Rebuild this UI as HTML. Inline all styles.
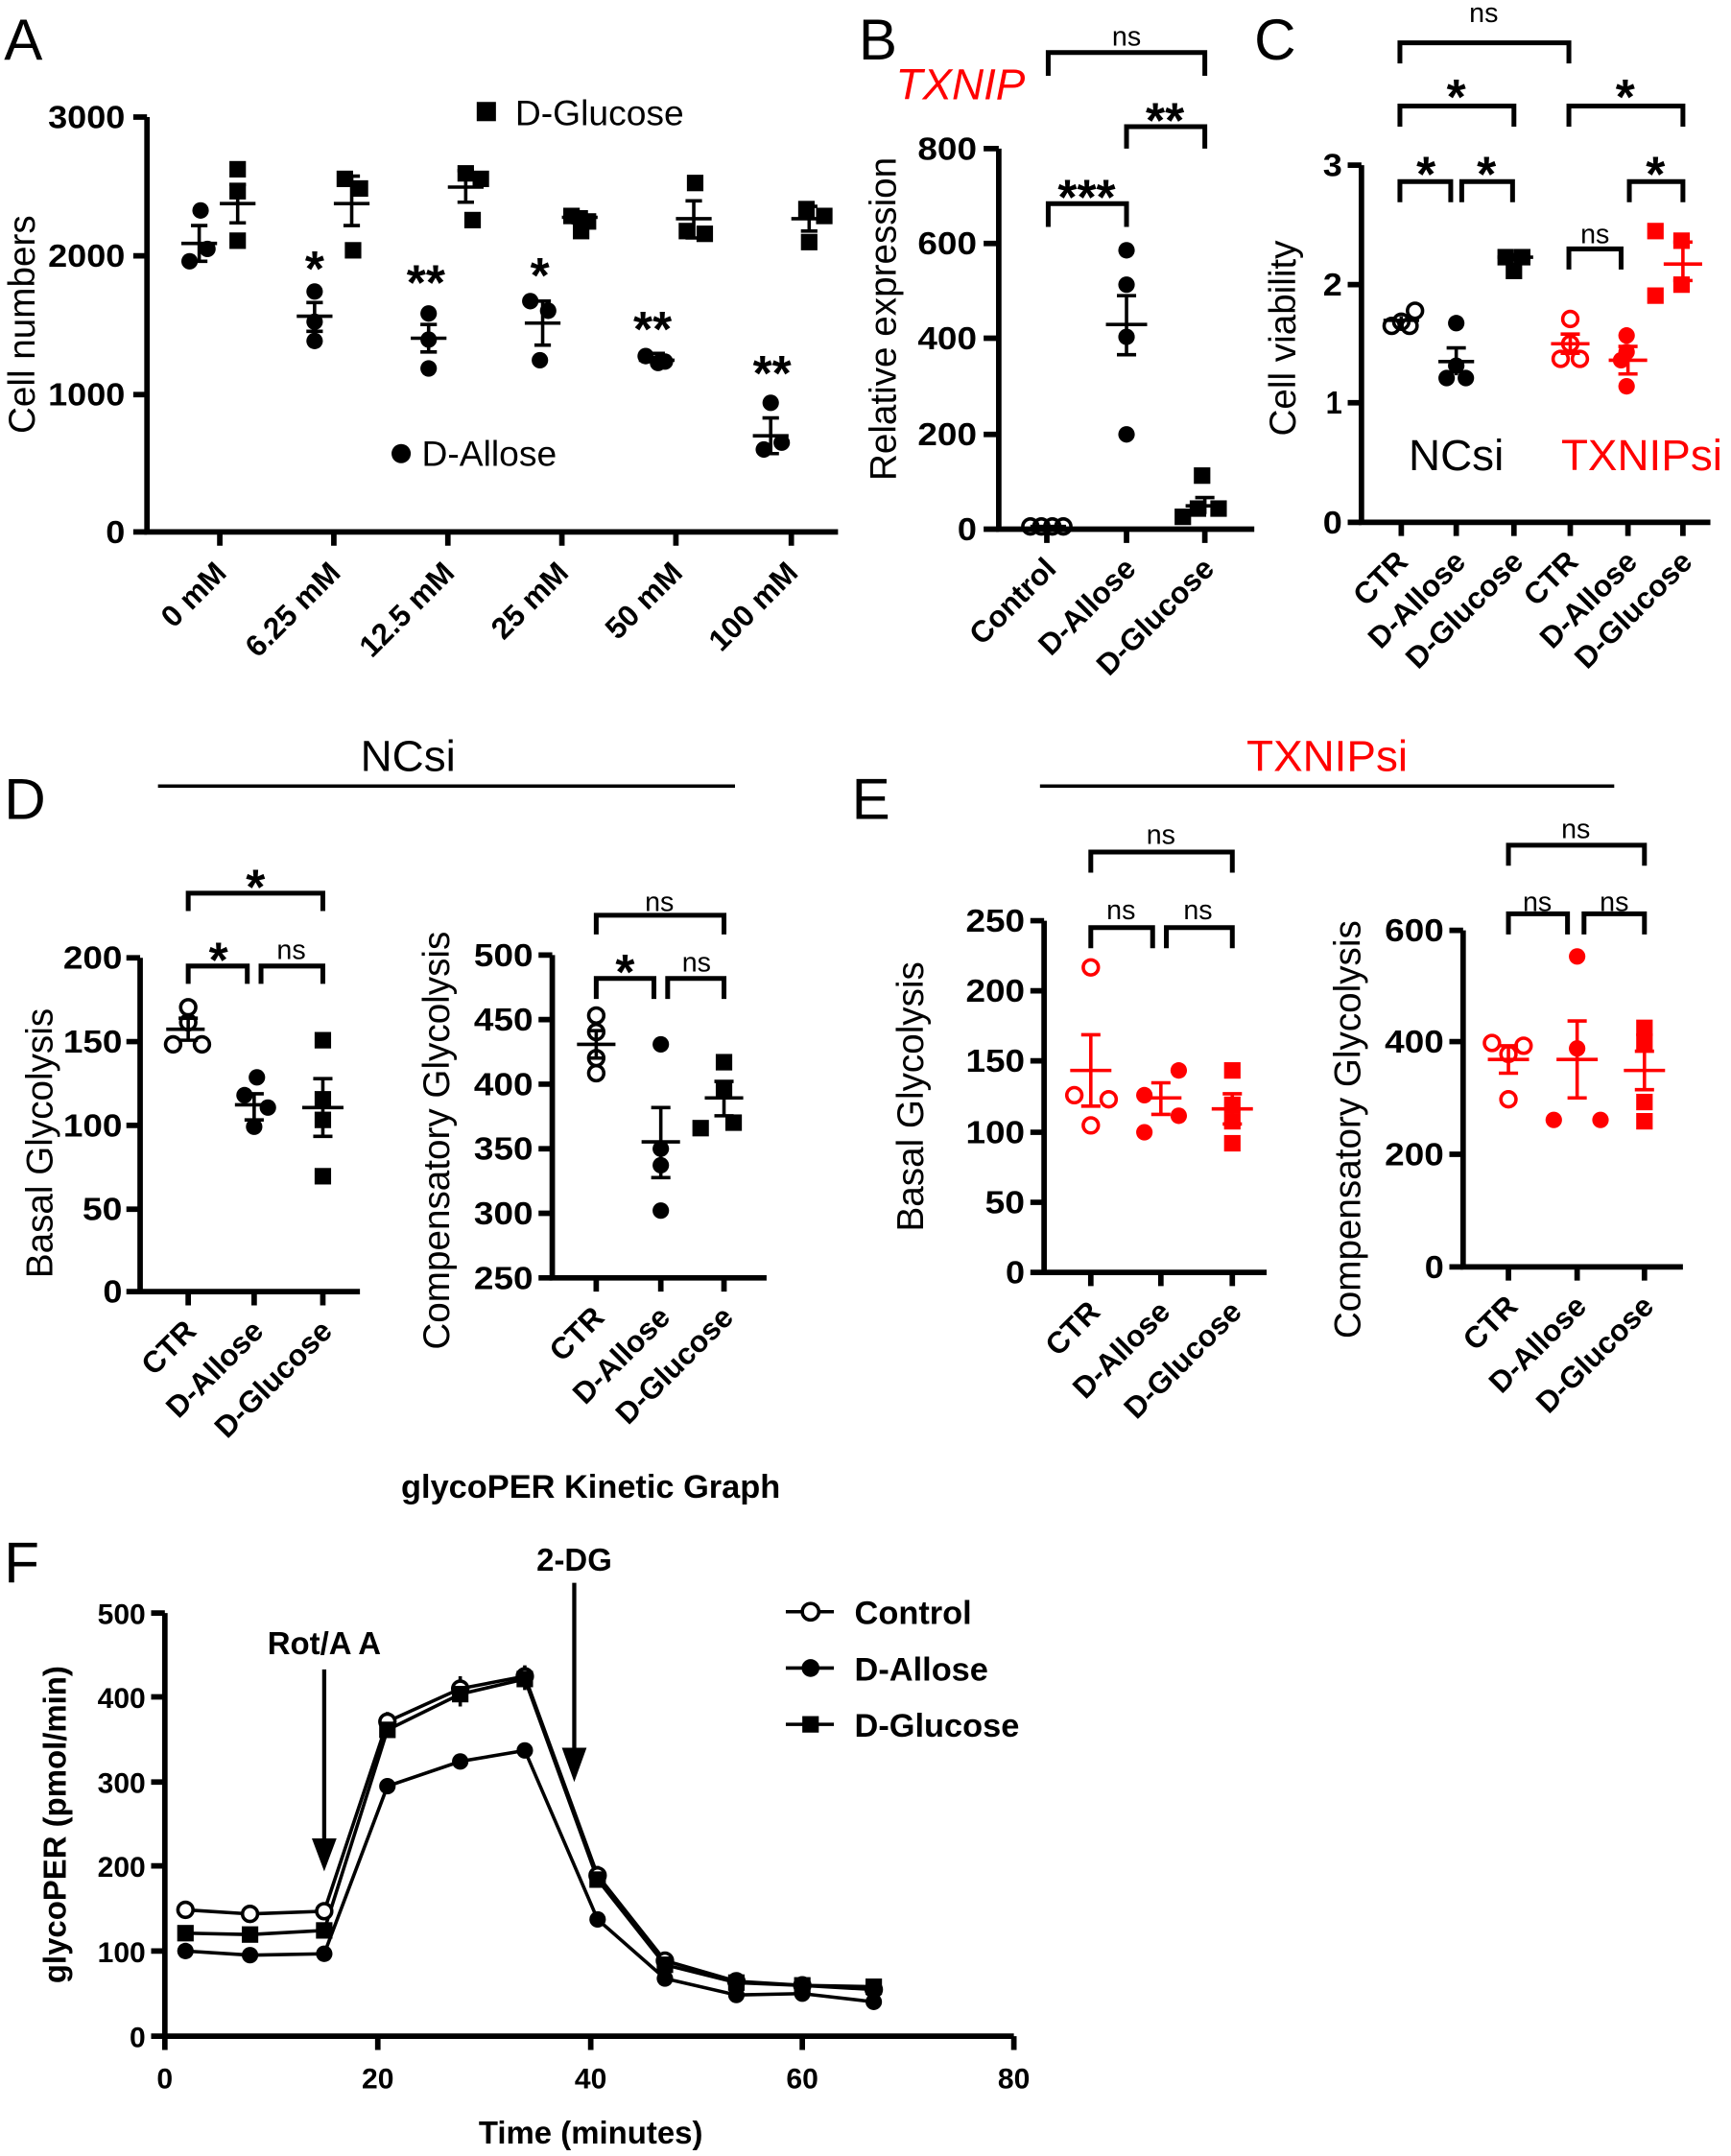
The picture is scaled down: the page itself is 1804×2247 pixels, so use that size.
<!DOCTYPE html>
<html><head><meta charset="utf-8"><style>
html,body{margin:0;padding:0;background:#fff}
svg{display:block}
text{font-family:"Liberation Sans",Arial,sans-serif}
.t{font-weight:bold;font-size:23px}
.c{font-weight:bold;font-size:22px}
.lab{font-size:27px}
.pl{font-size:42px}
.ax{stroke:#000;stroke-width:4;fill:none}
.br{stroke:#000;stroke-width:3.5;fill:none}
.eb{stroke:#000;stroke-width:2.5;fill:none}
.ebr{stroke:#f00;stroke-width:2.5;fill:none}
.st{font-size:36px;font-weight:bold}
.ns{font-size:20px}
</style></head><body>
<svg width="1804" height="2247" viewBox="0 0 1260 1569" xmlns="http://www.w3.org/2000/svg">
<rect width="1260" height="1569" fill="#fff"/>

<!-- ===== Panel A ===== -->
<text x="3" y="43" class="pl">A</text>
<path class="ax" d="M107 85 V387 H610"/>
<path class="ax" d="M97 85H107M97 186H107M97 287H107M97 387H107"/>
<path class="ax" d="M160 387v10M243 387v10M326 387v10M409 387v10M492 387v10M576 387v10"/>
<text class="t" x="91" y="93" text-anchor="end" textLength="56" lengthAdjust="spacingAndGlyphs">3000</text>
<text class="t" x="91" y="194" text-anchor="end" textLength="56" lengthAdjust="spacingAndGlyphs">2000</text>
<text class="t" x="91" y="295" text-anchor="end" textLength="56" lengthAdjust="spacingAndGlyphs">1000</text>
<text class="t" x="91" y="395" text-anchor="end" textLength="14" lengthAdjust="spacingAndGlyphs">0</text>
<text class="lab" transform="translate(25,236) rotate(-90)" text-anchor="middle">Cell numbers</text>
<g class="c" text-anchor="end">
<text transform="translate(166,418) rotate(-45)">0 mM</text>
<text transform="translate(249,418) rotate(-45)">6.25 mM</text>
<text transform="translate(332,418) rotate(-45)">12.5 mM</text>
<text transform="translate(415,418) rotate(-45)">25 mM</text>
<text transform="translate(498,418) rotate(-45)">50 mM</text>
<text transform="translate(582,418) rotate(-45)">100 mM</text>
</g>
<g fill="#000">
<circle cx="146" cy="153" r="6"/><circle cx="138" cy="190" r="6"/><circle cx="151" cy="181" r="6"/>
<circle cx="229" cy="212" r="6"/><circle cx="229" cy="234" r="6"/><circle cx="229" cy="248" r="6"/>
<circle cx="312" cy="228" r="6"/><circle cx="312" cy="247" r="6"/><circle cx="312" cy="268" r="6"/>
<circle cx="386" cy="219" r="6"/><circle cx="399" cy="226" r="6"/><circle cx="393" cy="262" r="6"/>
<circle cx="470" cy="259" r="6"/><circle cx="479" cy="264" r="6"/><circle cx="484" cy="263" r="6"/>
<circle cx="561" cy="293" r="6"/><circle cx="556" cy="327" r="6"/><circle cx="569" cy="322" r="6"/>
<rect x="167" y="117" width="12" height="12"/><rect x="167" y="133" width="12" height="12"/><rect x="167" y="169" width="12" height="12"/>
<rect x="245" y="124" width="12" height="12"/><rect x="256" y="131" width="12" height="12"/><rect x="251" y="176" width="12" height="12"/>
<rect x="333" y="120" width="12" height="12"/><rect x="344" y="124" width="12" height="12"/><rect x="338" y="154" width="12" height="12"/>
<rect x="410" y="151" width="12" height="12"/><rect x="422" y="155" width="12" height="12"/><rect x="417" y="162" width="12" height="12"/>
<rect x="500" y="127" width="12" height="12"/><rect x="494" y="162" width="12" height="12"/><rect x="507" y="164" width="12" height="12"/>
<rect x="581" y="146" width="12" height="12"/><rect x="594" y="151" width="12" height="12"/><rect x="583" y="170" width="12" height="12"/>
</g>
<path class="eb" d="M132 177h26M145 164v26M139 164h12M139 190h12
M160 148h26M173 134v28M167 134h12M167 162h12
M216 230h26M229 220v21M223 220h12M223 241h12
M243 148h26M256 128v36M250 128h12M250 164h12
M299 246h26M312 236v20M306 236h12M306 256h12
M326 136h26M339 124v23M333 124h12M333 147h12
M382 235h26M395 219v32M389 219h12M389 251h12
M409 158h26M422 154v8M416 154h12M416 162h12
M465 262h26M478 257v6M472 257h12M472 263h12
M492 159h26M505 146v27M499 146h12M499 173h12
M548 317h26M561 304v26M555 304h12M555 330h12
M576 159h26M589 150v18M583 150h12M583 168h12"/>
<g class="st" text-anchor="middle">
<text x="229" y="208">*</text><text x="310" y="218">**</text><text x="393" y="213">*</text><text x="475" y="252">**</text><text x="562" y="284">**</text>
</g>
<rect x="347" y="74" width="14" height="14"/>
<text x="375" y="91" style="font-size:26px">D-Glucose</text>
<circle cx="292" cy="330" r="7"/>
<text x="307" y="339" style="font-size:26px">D-Allose</text>

<!-- ===== Panel B ===== -->
<text x="625" y="43" class="pl">B</text>
<text x="652" y="72" style="font-size:32px;font-style:italic;fill:#f00">TXNIP</text>
<path class="ax" d="M727 108 V385 H913"/>
<path class="ax" d="M716 108H727M716 177H727M716 246H727M716 316H727M716 385H727"/>
<path class="ax" d="M762 385v10M820 385v10M877 385v10"/>
<text class="t" x="711" y="116" text-anchor="end" textLength="43" lengthAdjust="spacingAndGlyphs">800</text>
<text class="t" x="711" y="185" text-anchor="end" textLength="43" lengthAdjust="spacingAndGlyphs">600</text>
<text class="t" x="711" y="254" text-anchor="end" textLength="43" lengthAdjust="spacingAndGlyphs">400</text>
<text class="t" x="711" y="324" text-anchor="end" textLength="43" lengthAdjust="spacingAndGlyphs">200</text>
<text class="t" x="711" y="393" text-anchor="end" textLength="14" lengthAdjust="spacingAndGlyphs">0</text>
<text class="lab" transform="translate(652,232) rotate(-90)" text-anchor="middle">Relative expression</text>
<g class="c" text-anchor="end">
<text transform="translate(770,415) rotate(-45)">Control</text>
<text transform="translate(828,415) rotate(-45)">D-Allose</text>
<text transform="translate(885,415) rotate(-45)">D-Glucose</text>
</g>
<g fill="none" stroke="#000" stroke-width="2.5"><circle cx="750" cy="383" r="5.5"/><circle cx="758" cy="383" r="5.5"/><circle cx="766" cy="383" r="5.5"/><circle cx="774" cy="383" r="5.5"/></g>
<path class="eb" d="M750 383h26"/>
<g fill="#000"><circle cx="820" cy="182" r="6"/><circle cx="820" cy="207" r="6"/><circle cx="820" cy="245" r="6"/><circle cx="820" cy="316" r="6"/>
<rect x="869" y="340" width="12" height="12"/><rect x="881" y="364" width="12" height="12"/><rect x="855" y="370" width="12" height="12"/><rect x="866" y="364" width="12" height="12"/></g>
<path class="eb" d="M805 236h30M820 215v43M813 215h14M813 258h14M863 368h28M877 362v12M870 362h14"/>
<path class="br" d="M763 165V148H820V165M820 108V92H877V108M763 55V38H877V55"/>
<text class="st" x="791" y="156" text-anchor="middle">***</text>
<text class="st" x="848" y="100" text-anchor="middle">**</text>
<text class="ns" x="820" y="33" text-anchor="middle">ns</text>

<!-- ===== Panel C ===== -->
<text x="913" y="43" class="pl">C</text>
<path class="ax" d="M991 120 V380 H1245"/>
<path class="ax" d="M981 120H991M981 207H991M981 293H991M981 380H991"/>
<path class="ax" d="M1020 380v10M1060 380v10M1102 380v10M1143 380v10M1185 380v10M1225 380v10"/>
<text class="t" x="977" y="128" text-anchor="end" textLength="14" lengthAdjust="spacingAndGlyphs">3</text>
<text class="t" x="977" y="215" text-anchor="end" textLength="14" lengthAdjust="spacingAndGlyphs">2</text>
<text class="t" x="977" y="301" text-anchor="end" textLength="12" lengthAdjust="spacingAndGlyphs">1</text>
<text class="t" x="977" y="388" text-anchor="end" textLength="14" lengthAdjust="spacingAndGlyphs">0</text>
<text class="lab" transform="translate(943,246) rotate(-90)" text-anchor="middle">Cell viability</text>
<g class="c" text-anchor="end">
<text transform="translate(1026,410) rotate(-45)">CTR</text>
<text transform="translate(1068,410) rotate(-45)">D-Allose</text>
<text transform="translate(1110,410) rotate(-45)">D-Glucose</text>
<text transform="translate(1150,410) rotate(-45)">CTR</text>
<text transform="translate(1193,410) rotate(-45)">D-Allose</text>
<text transform="translate(1233,410) rotate(-45)">D-Glucose</text>
</g>
<g fill="none" stroke="#000" stroke-width="2.5"><circle cx="1013" cy="237" r="5.5"/><circle cx="1020" cy="234" r="5.5"/><circle cx="1026" cy="237" r="5.5"/><circle cx="1030" cy="226" r="5.5"/></g>
<path class="eb" d="M1007 233h26M1020 230v6"/>
<g fill="#000"><circle cx="1060" cy="235" r="6"/><circle cx="1053" cy="275" r="6"/><circle cx="1067" cy="275" r="6"/><circle cx="1060" cy="266" r="6"/>
<rect x="1090" y="181" width="12" height="12"/><rect x="1102" y="181" width="12" height="12"/><rect x="1096" y="191" width="12" height="12"/></g>
<path class="eb" d="M1047 263h26M1060 253v20M1053 253h14M1090 187h26M1103 184v6"/>
<g fill="none" stroke="#f00" stroke-width="2.5"><circle cx="1143" cy="232" r="5.5"/><circle cx="1136" cy="261" r="5.5"/><circle cx="1150" cy="261" r="5.5"/><circle cx="1143" cy="250" r="5.5"/></g>
<path class="ebr" d="M1129 250h28M1143 243v14M1136 243h14M1136 257h14"/>
<g fill="#f00"><circle cx="1184" cy="244" r="6"/><circle cx="1184" cy="256" r="6"/><circle cx="1184" cy="281" r="6"/><circle cx="1180" cy="262" r="6"/>
<rect x="1199" y="162" width="12" height="12"/><rect x="1218" y="169" width="12" height="12"/><rect x="1218" y="201" width="12" height="12"/><rect x="1199" y="209" width="12" height="12"/></g>
<path class="ebr" d="M1171 262h28M1185 252v20M1178 252h14M1178 272h14M1211 192h28M1225 176v28M1218 176h14M1218 204h14"/>
<path class="br" d="M1019 147V132H1056V147M1064 147V132H1101V147M1019 92V77H1102V92M1142 92V77H1225V92M1019 46V31H1142V46M1142 196V181H1180V196M1186 147V132H1225V147"/>
<g class="st" text-anchor="middle"><text x="1038" y="139">*</text><text x="1082" y="139">*</text><text x="1060" y="83">*</text><text x="1183" y="83">*</text><text x="1205" y="139">*</text></g>
<text class="ns" x="1080" y="16" text-anchor="middle">ns</text>
<text class="ns" x="1161" y="177" text-anchor="middle">ns</text>
<text x="1060" y="342" text-anchor="middle" style="font-size:32px">NCsi</text>
<text x="1195" y="342" text-anchor="middle" style="font-size:32px;fill:#f00">TXNIPsi</text>

<!-- ===== Panel D ===== -->
<text x="3" y="596" class="pl">D</text>
<text x="297" y="561" text-anchor="middle" style="font-size:32px">NCsi</text>
<path d="M115 572H535" stroke="#000" stroke-width="2.5"/>
<path class="ax" d="M102 697 V940 H262"/>
<path class="ax" d="M92 697H102M92 758H102M92 819H102M92 880H102M92 940H102"/>
<path class="ax" d="M137 940v10M185 940v10M235 940v10"/>
<text class="t" x="89" y="705" text-anchor="end" textLength="43" lengthAdjust="spacingAndGlyphs">200</text>
<text class="t" x="89" y="766" text-anchor="end" textLength="43" lengthAdjust="spacingAndGlyphs">150</text>
<text class="t" x="89" y="827" text-anchor="end" textLength="43" lengthAdjust="spacingAndGlyphs">100</text>
<text class="t" x="89" y="888" text-anchor="end" textLength="29" lengthAdjust="spacingAndGlyphs">50</text>
<text class="t" x="89" y="948" text-anchor="end" textLength="14" lengthAdjust="spacingAndGlyphs">0</text>
<text class="lab" transform="translate(38,832) rotate(-90)" text-anchor="middle">Basal Glycolysis</text>
<g class="c" text-anchor="end">
<text transform="translate(144,970) rotate(-45)">CTR</text>
<text transform="translate(193,970) rotate(-45)">D-Allose</text>
<text transform="translate(243,970) rotate(-45)">D-Glucose</text>
</g>
<g fill="none" stroke="#000" stroke-width="2.5"><circle cx="137" cy="733" r="5.5"/><circle cx="137" cy="744" r="5.5"/><circle cx="126" cy="760" r="5.5"/><circle cx="147" cy="760" r="5.5"/></g>
<path class="eb" d="M121 749h28M137 741v16M130 741h14M130 757h14"/>
<g fill="#000"><circle cx="187" cy="784" r="6"/><circle cx="178" cy="797" r="6"/><circle cx="195" cy="806" r="6"/><circle cx="185" cy="820" r="6"/>
<rect x="229" y="751" width="12" height="12"/><rect x="229" y="794" width="12" height="12"/><rect x="229" y="809" width="12" height="12"/><rect x="229" y="850" width="12" height="12"/></g>
<path class="eb" d="M171 804h28M185 796v19M178 796h14M178 815h14M220 806h30M235 785v42M228 785h14M228 827h14"/>
<path class="br" d="M137 716V703H180V716M190 716V703H235V716M137 663V650H235V663"/>
<text class="st" x="159" y="711" text-anchor="middle">*</text>
<text class="ns" x="212" y="698" text-anchor="middle">ns</text>
<text class="st" x="186" y="658" text-anchor="middle">*</text>
<!-- comp -->
<path class="ax" d="M402 695 V930 H558"/>
<path class="ax" d="M392 695H402M392 742H402M392 789H402M392 836H402M392 883H402M392 930H402"/>
<path class="ax" d="M434 930v10M481 930v10M527 930v10"/>
<text class="t" x="388" y="703" text-anchor="end" textLength="43" lengthAdjust="spacingAndGlyphs">500</text>
<text class="t" x="388" y="750" text-anchor="end" textLength="43" lengthAdjust="spacingAndGlyphs">450</text>
<text class="t" x="388" y="797" text-anchor="end" textLength="43" lengthAdjust="spacingAndGlyphs">400</text>
<text class="t" x="388" y="844" text-anchor="end" textLength="43" lengthAdjust="spacingAndGlyphs">350</text>
<text class="t" x="388" y="891" text-anchor="end" textLength="43" lengthAdjust="spacingAndGlyphs">300</text>
<text class="t" x="388" y="938" text-anchor="end" textLength="43" lengthAdjust="spacingAndGlyphs">250</text>
<text class="lab" transform="translate(327,830) rotate(-90)" text-anchor="middle">Compensatory Glycolysis</text>
<g class="c" text-anchor="end">
<text transform="translate(441,960) rotate(-45)">CTR</text>
<text transform="translate(489,960) rotate(-45)">D-Allose</text>
<text transform="translate(535,960) rotate(-45)">D-Glucose</text>
</g>
<g fill="none" stroke="#000" stroke-width="2.5"><circle cx="434" cy="739" r="5.5"/><circle cx="434" cy="751" r="5.5"/><circle cx="434" cy="770" r="5.5"/><circle cx="434" cy="781" r="5.5"/></g>
<path class="eb" d="M420 760h28M434 750v20M428 750h12M428 770h12"/>
<g fill="#000"><circle cx="481" cy="760" r="6"/><circle cx="481" cy="836" r="6"/><circle cx="481" cy="848" r="6"/><circle cx="481" cy="881" r="6"/>
<rect x="521" y="767" width="12" height="12"/><rect x="521" y="788" width="12" height="12"/><rect x="504" y="815" width="12" height="12"/><rect x="528" y="811" width="12" height="12"/></g>
<path class="eb" d="M467 831h28M481 806v51M474 806h14M474 857h14M513 799h28M527 787v25M520 787h14M520 812h14"/>
<path class="br" d="M434 727V712H476V727M486 727V712H527V727M434 680V666H527V680"/>
<text class="st" x="455" y="720" text-anchor="middle">*</text>
<text class="ns" x="507" y="707" text-anchor="middle">ns</text>
<text class="ns" x="480" y="663" text-anchor="middle">ns</text>

<!-- ===== Panel E ===== -->
<text x="620" y="596" class="pl">E</text>
<text x="966" y="561" text-anchor="middle" style="font-size:32px;fill:#f00">TXNIPsi</text>
<path d="M757 572H1175" stroke="#000" stroke-width="2.5"/>
<path class="ax" d="M760 670 V926 H922"/>
<path class="ax" d="M750 670H760M750 721H760M750 772H760M750 824H760M750 875H760M750 926H760"/>
<path class="ax" d="M794 926v10M845 926v10M897 926v10"/>
<text class="t" x="746" y="678" text-anchor="end" textLength="43" lengthAdjust="spacingAndGlyphs">250</text>
<text class="t" x="746" y="729" text-anchor="end" textLength="43" lengthAdjust="spacingAndGlyphs">200</text>
<text class="t" x="746" y="780" text-anchor="end" textLength="43" lengthAdjust="spacingAndGlyphs">150</text>
<text class="t" x="746" y="832" text-anchor="end" textLength="43" lengthAdjust="spacingAndGlyphs">100</text>
<text class="t" x="746" y="883" text-anchor="end" textLength="29" lengthAdjust="spacingAndGlyphs">50</text>
<text class="t" x="746" y="934" text-anchor="end" textLength="14" lengthAdjust="spacingAndGlyphs">0</text>
<text class="lab" transform="translate(672,798) rotate(-90)" text-anchor="middle">Basal Glycolysis</text>
<g class="c" text-anchor="end">
<text transform="translate(802,956) rotate(-45)">CTR</text>
<text transform="translate(853,956) rotate(-45)">D-Allose</text>
<text transform="translate(905,956) rotate(-45)">D-Glucose</text>
</g>
<g fill="none" stroke="#f00" stroke-width="2.5"><circle cx="794" cy="704" r="5.5"/><circle cx="782" cy="797" r="5.5"/><circle cx="807" cy="800" r="5.5"/><circle cx="794" cy="819" r="5.5"/></g>
<path class="ebr" d="M779 779h30M794 753v52M787 753h14M787 805h14"/>
<g fill="#f00"><circle cx="858" cy="779" r="6"/><circle cx="833" cy="797" r="6"/><circle cx="858" cy="812" r="6"/><circle cx="833" cy="824" r="6"/>
<rect x="891" y="773" width="12" height="12"/><rect x="891" y="798" width="12" height="12"/><rect x="891" y="810" width="12" height="12"/><rect x="891" y="826" width="12" height="12"/></g>
<path class="ebr" d="M830 799h30M845 788v23M838 788h14M838 811h14M882 807h30M897 796v22M890 796h14M890 818h14"/>
<path class="br" d="M794 690V675H839V690M849 690V675H897V690M794 635V620H897V635"/>
<text class="ns" x="816" y="669" text-anchor="middle">ns</text>
<text class="ns" x="872" y="669" text-anchor="middle">ns</text>
<text class="ns" x="845" y="614" text-anchor="middle">ns</text>
<path class="ax" d="M1065 677 V922 H1225"/>
<path class="ax" d="M1055 677H1065M1055 758H1065M1055 840H1065M1055 922H1065"/>
<path class="ax" d="M1098 922v10M1148 922v10M1197 922v10"/>
<text class="t" x="1051" y="685" text-anchor="end" textLength="43" lengthAdjust="spacingAndGlyphs">600</text>
<text class="t" x="1051" y="766" text-anchor="end" textLength="43" lengthAdjust="spacingAndGlyphs">400</text>
<text class="t" x="1051" y="848" text-anchor="end" textLength="43" lengthAdjust="spacingAndGlyphs">200</text>
<text class="t" x="1051" y="930" text-anchor="end" textLength="14" lengthAdjust="spacingAndGlyphs">0</text>
<text class="lab" transform="translate(990,822) rotate(-90)" text-anchor="middle">Compensatory Glycolysis</text>
<g class="c" text-anchor="end">
<text transform="translate(1106,952) rotate(-45)">CTR</text>
<text transform="translate(1156,952) rotate(-45)">D-Allose</text>
<text transform="translate(1205,952) rotate(-45)">D-Glucose</text>
</g>
<g fill="none" stroke="#f00" stroke-width="2.5"><circle cx="1086" cy="759" r="5.5"/><circle cx="1109" cy="761" r="5.5"/><circle cx="1098" cy="767" r="5.5"/><circle cx="1098" cy="800" r="5.5"/></g>
<path class="ebr" d="M1083 771h30M1098 761v20M1091 761h14M1091 781h14"/>
<g fill="#f00"><circle cx="1148" cy="696" r="6"/><circle cx="1148" cy="763" r="6"/><circle cx="1131" cy="815" r="6"/><circle cx="1165" cy="815" r="6"/>
<rect x="1191" y="742" width="12" height="12"/><rect x="1191" y="752" width="12" height="12"/><rect x="1191" y="796" width="12" height="12"/><rect x="1191" y="810" width="12" height="12"/></g>
<path class="ebr" d="M1133 771h30M1148 743v56M1141 743h14M1141 799h14M1182 779h30M1197 765v28M1190 765h14M1190 793h14"/>
<path class="br" d="M1098 680V665H1141V680M1153 680V665H1197V680M1098 630V615H1197V630"/>
<text class="ns" x="1119" y="663" text-anchor="middle">ns</text>
<text class="ns" x="1175" y="663" text-anchor="middle">ns</text>
<text class="ns" x="1147" y="610" text-anchor="middle">ns</text>

<!-- ===== Panel F ===== -->
<text x="430" y="1090" text-anchor="middle" style="font-size:24px;font-weight:bold">glycoPER Kinetic Graph</text>
<text x="3" y="1152" class="pl">F</text>
<path class="ax" d="M120 1174 V1482 H738"/>
<path class="ax" d="M110 1174H120M110 1235H120M110 1297H120M110 1358H120M110 1420H120M110 1482H120"/>
<path class="ax" d="M120 1482v10M275 1482v10M430 1482v10M584 1482v10M738 1482v10"/>
<g class="t" style="font-size:21px" text-anchor="end">
<text x="106" y="1182">500</text><text x="106" y="1243">400</text><text x="106" y="1305">300</text><text x="106" y="1366">200</text><text x="106" y="1428">100</text><text x="106" y="1490">0</text>
</g>
<g class="t" style="font-size:21px" text-anchor="middle">
<text x="120" y="1520">0</text><text x="275" y="1520">20</text><text x="430" y="1520">40</text><text x="584" y="1520">60</text><text x="738" y="1520">80</text>
</g>
<text transform="translate(48,1328) rotate(-90)" text-anchor="middle" style="font-size:23px;font-weight:bold">glycoPER (pmol/min)</text>
<text x="430" y="1560" text-anchor="middle" style="font-size:23px;font-weight:bold">Time (minutes)</text>
<g fill="none" stroke="#000" stroke-width="2.5">
<polyline points="135,1390 182,1393 236,1391 282,1253 335,1229 382,1220 435,1365 484,1427 536,1442 584,1445 636,1448"/>
<polyline points="135,1420 182,1423 236,1422 282,1300 335,1282 382,1274 435,1397 484,1440 536,1452 584,1451 636,1457"/>
<polyline points="135,1407 182,1408 236,1405 282,1259 335,1233 382,1222 435,1368 484,1430 536,1443 584,1445 636,1446"/>
<path d="M282 1246v16M335 1220v18M382 1212v18M435 1358v14M335 1226v16M382 1214v16"/>
</g>
<g fill="#fff" stroke="#000" stroke-width="2.5">
<circle cx="135" cy="1390" r="5.5"/><circle cx="182" cy="1393" r="5.5"/><circle cx="236" cy="1391" r="5.5"/><circle cx="282" cy="1253" r="5.5"/><circle cx="335" cy="1229" r="5.5"/><circle cx="382" cy="1220" r="5.5"/><circle cx="435" cy="1365" r="5.5"/><circle cx="484" cy="1427" r="5.5"/><circle cx="536" cy="1442" r="5.5"/><circle cx="584" cy="1445" r="5.5"/><circle cx="636" cy="1448" r="5.5"/>
</g>
<g fill="#000">
<circle cx="135" cy="1420" r="6"/><circle cx="182" cy="1423" r="6"/><circle cx="236" cy="1422" r="6"/><circle cx="282" cy="1300" r="6"/><circle cx="335" cy="1282" r="6"/><circle cx="382" cy="1274" r="6"/><circle cx="435" cy="1397" r="6"/><circle cx="484" cy="1440" r="6"/><circle cx="536" cy="1452" r="6"/><circle cx="584" cy="1451" r="6"/><circle cx="636" cy="1457" r="6"/>
<rect x="129" y="1401" width="12" height="12"/><rect x="176" y="1402" width="12" height="12"/><rect x="230" y="1399" width="12" height="12"/><rect x="276" y="1253" width="12" height="12"/><rect x="329" y="1227" width="12" height="12"/><rect x="376" y="1216" width="12" height="12"/><rect x="429" y="1362" width="12" height="12"/><rect x="478" y="1424" width="12" height="12"/><rect x="530" y="1437" width="12" height="12"/><rect x="578" y="1439" width="12" height="12"/><rect x="630" y="1440" width="12" height="12"/>
</g>
<path d="M236 1215V1342" stroke="#000" stroke-width="3"/>
<polygon points="227,1338 245,1338 236,1362" fill="#000"/>
<text x="236" y="1204" text-anchor="middle" style="font-size:23px;font-weight:bold">Rot/A A</text>
<path d="M418 1152V1276" stroke="#000" stroke-width="3"/>
<polygon points="409,1272 427,1272 418,1297" fill="#000"/>
<text x="418" y="1143" text-anchor="middle" style="font-size:23px;font-weight:bold">2-DG</text>
<g stroke="#000" stroke-width="2.5"><path d="M572 1173H607M572 1214H607M572 1255H607"/></g>
<circle cx="590" cy="1173" r="6" fill="#fff" stroke="#000" stroke-width="2.5"/>
<circle cx="590" cy="1214" r="6.5" fill="#000"/>
<rect x="584" y="1249" width="12" height="12" fill="#000"/>
<g style="font-size:24px;font-weight:bold">
<text x="622" y="1182">Control</text><text x="622" y="1223">D-Allose</text><text x="622" y="1264">D-Glucose</text>
</g>
</svg>
</body></html>
